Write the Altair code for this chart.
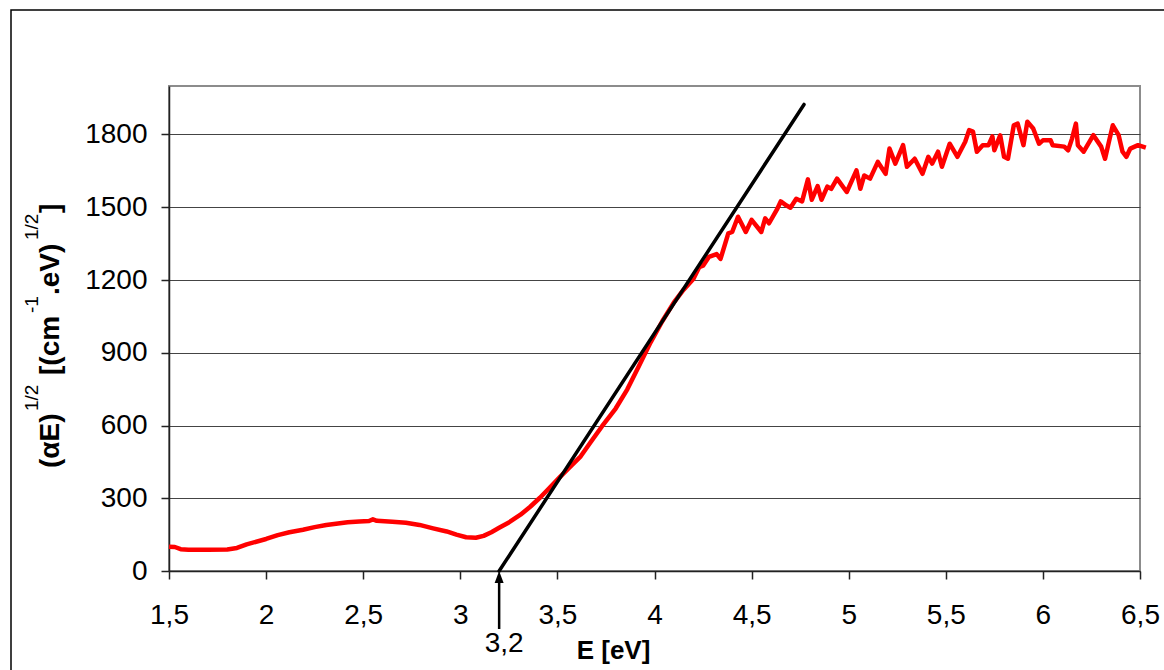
import altair as alt
import pandas as pd

FONT = "Liberation Sans"

# Measured absorption curve: photon energy (eV) and (alpha*E)^(1/2)
energy = [
    1.50, 1.53, 1.56, 1.60, 1.70, 1.80, 1.85, 1.90, 2.00, 2.06, 2.12, 2.19,
    2.25, 2.31, 2.37, 2.42, 2.48, 2.53, 2.55, 2.57, 2.65, 2.72, 2.79, 2.86,
    2.93, 2.98, 3.03, 3.08, 3.12, 3.16, 3.20, 3.25, 3.31, 3.36, 3.41, 3.45,
    3.51, 3.56, 3.62, 3.67, 3.73, 3.80, 3.86, 3.92, 3.98, 4.04, 4.10, 4.15,
    4.20, 4.23, 4.25, 4.28, 4.32, 4.34, 4.38, 4.40, 4.43, 4.47, 4.50, 4.55,
    4.57, 4.59, 4.63, 4.65, 4.68, 4.70, 4.73, 4.76, 4.79, 4.81, 4.84, 4.86,
    4.89, 4.91, 4.94, 4.99, 5.04, 5.06, 5.08, 5.11, 5.15, 5.19, 5.21, 5.24,
    5.28, 5.30, 5.34, 5.38, 5.41, 5.43, 5.46, 5.48, 5.52, 5.56, 5.60, 5.62,
    5.64, 5.66, 5.69, 5.72, 5.74, 5.75, 5.78, 5.80, 5.82, 5.85, 5.87, 5.90,
    5.92, 5.95, 5.98, 6.00, 6.04, 6.05, 6.11, 6.13, 6.15, 6.17, 6.18, 6.21,
    6.26, 6.30, 6.32, 6.34, 6.36, 6.39, 6.41, 6.43, 6.45, 6.49, 6.53,
]
sqrt_alpha_e = [
    100, 99, 90, 88, 88, 89, 95, 110, 132, 148, 160, 170,
    181, 190, 196, 201, 204, 206, 213, 207, 203, 199, 190, 176,
    163, 150, 139, 137, 145, 160, 178, 200, 232, 265, 302, 335,
    385, 425, 473, 530, 597, 670, 749, 845, 943, 1030, 1108, 1160,
    1204, 1253, 1259, 1295, 1307, 1287, 1392, 1398, 1461, 1398, 1448, 1398,
    1454, 1434, 1490, 1524, 1507, 1498, 1535, 1524, 1615, 1531, 1587, 1531,
    1585, 1576, 1618, 1563, 1652, 1576, 1631, 1618, 1687, 1638, 1742, 1680,
    1756, 1667, 1700, 1638, 1708, 1680, 1729, 1667, 1762, 1708, 1770, 1818,
    1812, 1729, 1756, 1756, 1792, 1735, 1797, 1708, 1700, 1838, 1845, 1756,
    1853, 1825, 1762, 1776, 1776, 1756, 1750, 1735, 1783, 1845, 1756, 1729,
    1797, 1750, 1700, 1770, 1838, 1797, 1729, 1708, 1742, 1756, 1746,
]

# Linear extrapolation of the absorption edge (Tauc line)
gap_energy = 3.2
tangent_energy = [gap_energy, 4.77]
tangent_value = [0, 1924]

x_ticks = [1.5, 2, 2.5, 3, 3.5, 4, 4.5, 5, 5.5, 6, 6.5]
y_ticks = [0, 300, 600, 900, 1200, 1500, 1800]

curve = pd.DataFrame({"E": energy, "v": sqrt_alpha_e})
tangent = pd.DataFrame({"E": tangent_energy, "v": tangent_value})
gap = pd.DataFrame({"E": [gap_energy], "label": ["3,2"]})
single = pd.DataFrame({"k": [0]})

x_scale = alt.Scale(domain=[1.5, 6.5], nice=False, zero=False)
y_scale = alt.Scale(domain=[0, 2000], nice=False)

x_axis = alt.Axis(
    values=x_ticks,
    labelExpr="replace(format(datum.value, '~g'), '.', ',')",
    labelFlush=False,
    labelOverlap=False,
    grid=False,
    tickSize=8,
    labelPadding=22,
    labelFontSize=28,
    labelFont=FONT,
    labelColor="black",
    tickColor="#222",
    domainColor="#222",
    domainWidth=1.5,
    tickWidth=1.5,
    title="E [eV]",
    titleFont=FONT,
    titleFontSize=26,
    titleFontWeight="bold",
    titleColor="black",
    titleX=444,
    titleY=87,
    titleAlign="center",
    titleBaseline="alphabetic",
)
y_axis = alt.Axis(
    values=y_ticks,
    format="d",
    labelFlush=False,
    labelOverlap=False,
    grid=True,
    gridColor="#444",
    gridWidth=1,
    tickSize=8,
    labelPadding=14,
    labelFontSize=28,
    labelFont=FONT,
    labelColor="black",
    tickColor="#222",
    domainColor="#222",
    domainWidth=1.5,
    tickWidth=1.5,
    title="",
)

# Outer frame around the whole figure (outline only)
frame = alt.Chart(single).mark_rect(
    fillOpacity=0, stroke="black", strokeWidth=1.5
).encode(
    x=alt.value(-158), x2=alt.value(1010), y=alt.value(-76), y2=alt.value(600)
)

line = alt.Chart(curve).mark_line(
    color="#ff0000", strokeWidth=4.5, strokeJoin="round"
).encode(
    x=alt.X("E:Q", scale=x_scale, axis=x_axis),
    y=alt.Y("v:Q", scale=y_scale, axis=y_axis),
)

fit = alt.Chart(tangent).mark_line(
    color="black", strokeWidth=3.5, strokeCap="round"
).encode(x=alt.X("E:Q", scale=x_scale), y=alt.Y("v:Q", scale=y_scale))

shaft = alt.Chart(gap).mark_rule(color="black", strokeWidth=2.5).encode(
    x=alt.X("E:Q", scale=x_scale), y=alt.value(496), y2=alt.value(543)
)
head = alt.Chart(gap).mark_point(
    shape="M0,-1L0.75,1L-0.75,1Z", filled=True, color="black", opacity=1, size=144
).encode(x=alt.X("E:Q", scale=x_scale), y=alt.value(491))
gap_label = alt.Chart(gap).mark_text(
    font=FONT, fontSize=28, color="black", baseline="alphabetic", align="center", dx=5
).encode(x=alt.X("E:Q", scale=x_scale), y=alt.value(566), text="label:N")


def title_piece(text, along, size, weight, across):
    return alt.Chart(single).mark_text(
        text=text, angle=270, align="left", baseline="alphabetic",
        font=FONT, fontSize=size, fontWeight=weight, color="black",
    ).encode(x=alt.value(across), y=alt.value(382 - along))


# Y title: (αE)^1/2 [(cm^-1.eV)^1/2], superscripts set as raised smaller runs
title_layers = [
    title_piece("(αE)", 0, 28, "bold", -110),
    title_piece("1/2", 57, 19, "normal", -131),
    title_piece("[(cm", 93, 28, "bold", -110),
    title_piece("-1", 155, 19, "normal", -131),
    title_piece(".eV)", 173, 28, "bold", -110),
    title_piece("1/2", 228, 19, "normal", -131),
    title_piece("]", 255, 28, "bold", -110),
]

chart = alt.layer(
    frame, line, fit, shaft, head, gap_label, *title_layers
).properties(
    width=971,
    height=485,
    padding={"left": 169, "top": 86, "right": 24, "bottom": 99},
    autosize=alt.AutoSizeParams(type="none"),
    background="white",
).configure_view(
    stroke="#8c8c8c", strokeWidth=2
)

chart.save("out.html", embed_options={"renderer": "svg", "actions": False})
